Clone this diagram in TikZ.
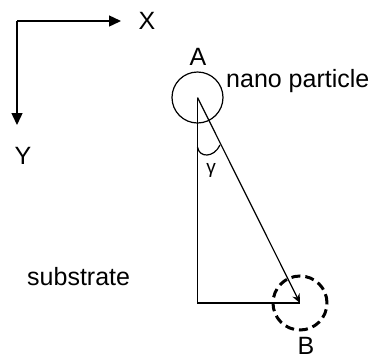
\documentclass[tikz,border=0pt]{standalone}
\usepackage{fontspec}
\setmainfont{Liberation Sans}
\usetikzlibrary{arrows.meta}
\begin{document}
\begin{tikzpicture}[x=1pt,y=-1pt,
  lbl/.style={inner sep=0pt,font=\fontsize{25}{30}\selectfont},
  axis/.style={line width=1.4pt,-{Triangle[length=12pt,width=11pt]}},
  thin line/.style={line width=1.2pt},
  dashcirc/.style={circle,draw,line width=3pt,dash pattern=on 9pt off 5pt,minimum size=54pt,inner sep=0pt}]
\useasboundingbox (0,0) rectangle (378,360);
% axes
\coordinate (O) at (17,21);
\coordinate (Xe) at (121,21);
\coordinate (Ye) at (17,125);
\draw[axis] (O) -- (Xe);
\draw[axis] (O) -- (Ye);
\node[lbl] (X) at (147,21) {X};
\node[lbl] (Y) at (23,156) {Y};
% particle A
\node[circle,draw,line width=1.2pt,minimum size=51pt,inner sep=0pt] (A) at (197.5,97.5) {};
\node[lbl] (Alab) at (198,57) {A};
\node[lbl,anchor=base west] (np) at (226,87) {nano particle};
% corner and B
\coordinate (C) at (197.5,303);
\node[dashcirc] (B) at (300,303) {};
\node[lbl] (Blab) at (306,346) {B};
\draw[thin line] (A.center) -- (C) -- (B.center);
\draw[thin line,-{Stealth[length=9pt,width=8pt]}] (A.center) -- (B.center);
% angle
\coordinate (g1) at (197.5,147);
\coordinate (g2) at (220,145);
\draw[thin line] (g1) .. controls (199,158) and (214,158) .. (g2);
\node[lbl,font=\fontsize{19}{23}\selectfont] (g) at (211,170) {γ};
\node[lbl,anchor=base west] (sub) at (27,285) {substrate};
\end{tikzpicture}
\end{document}
